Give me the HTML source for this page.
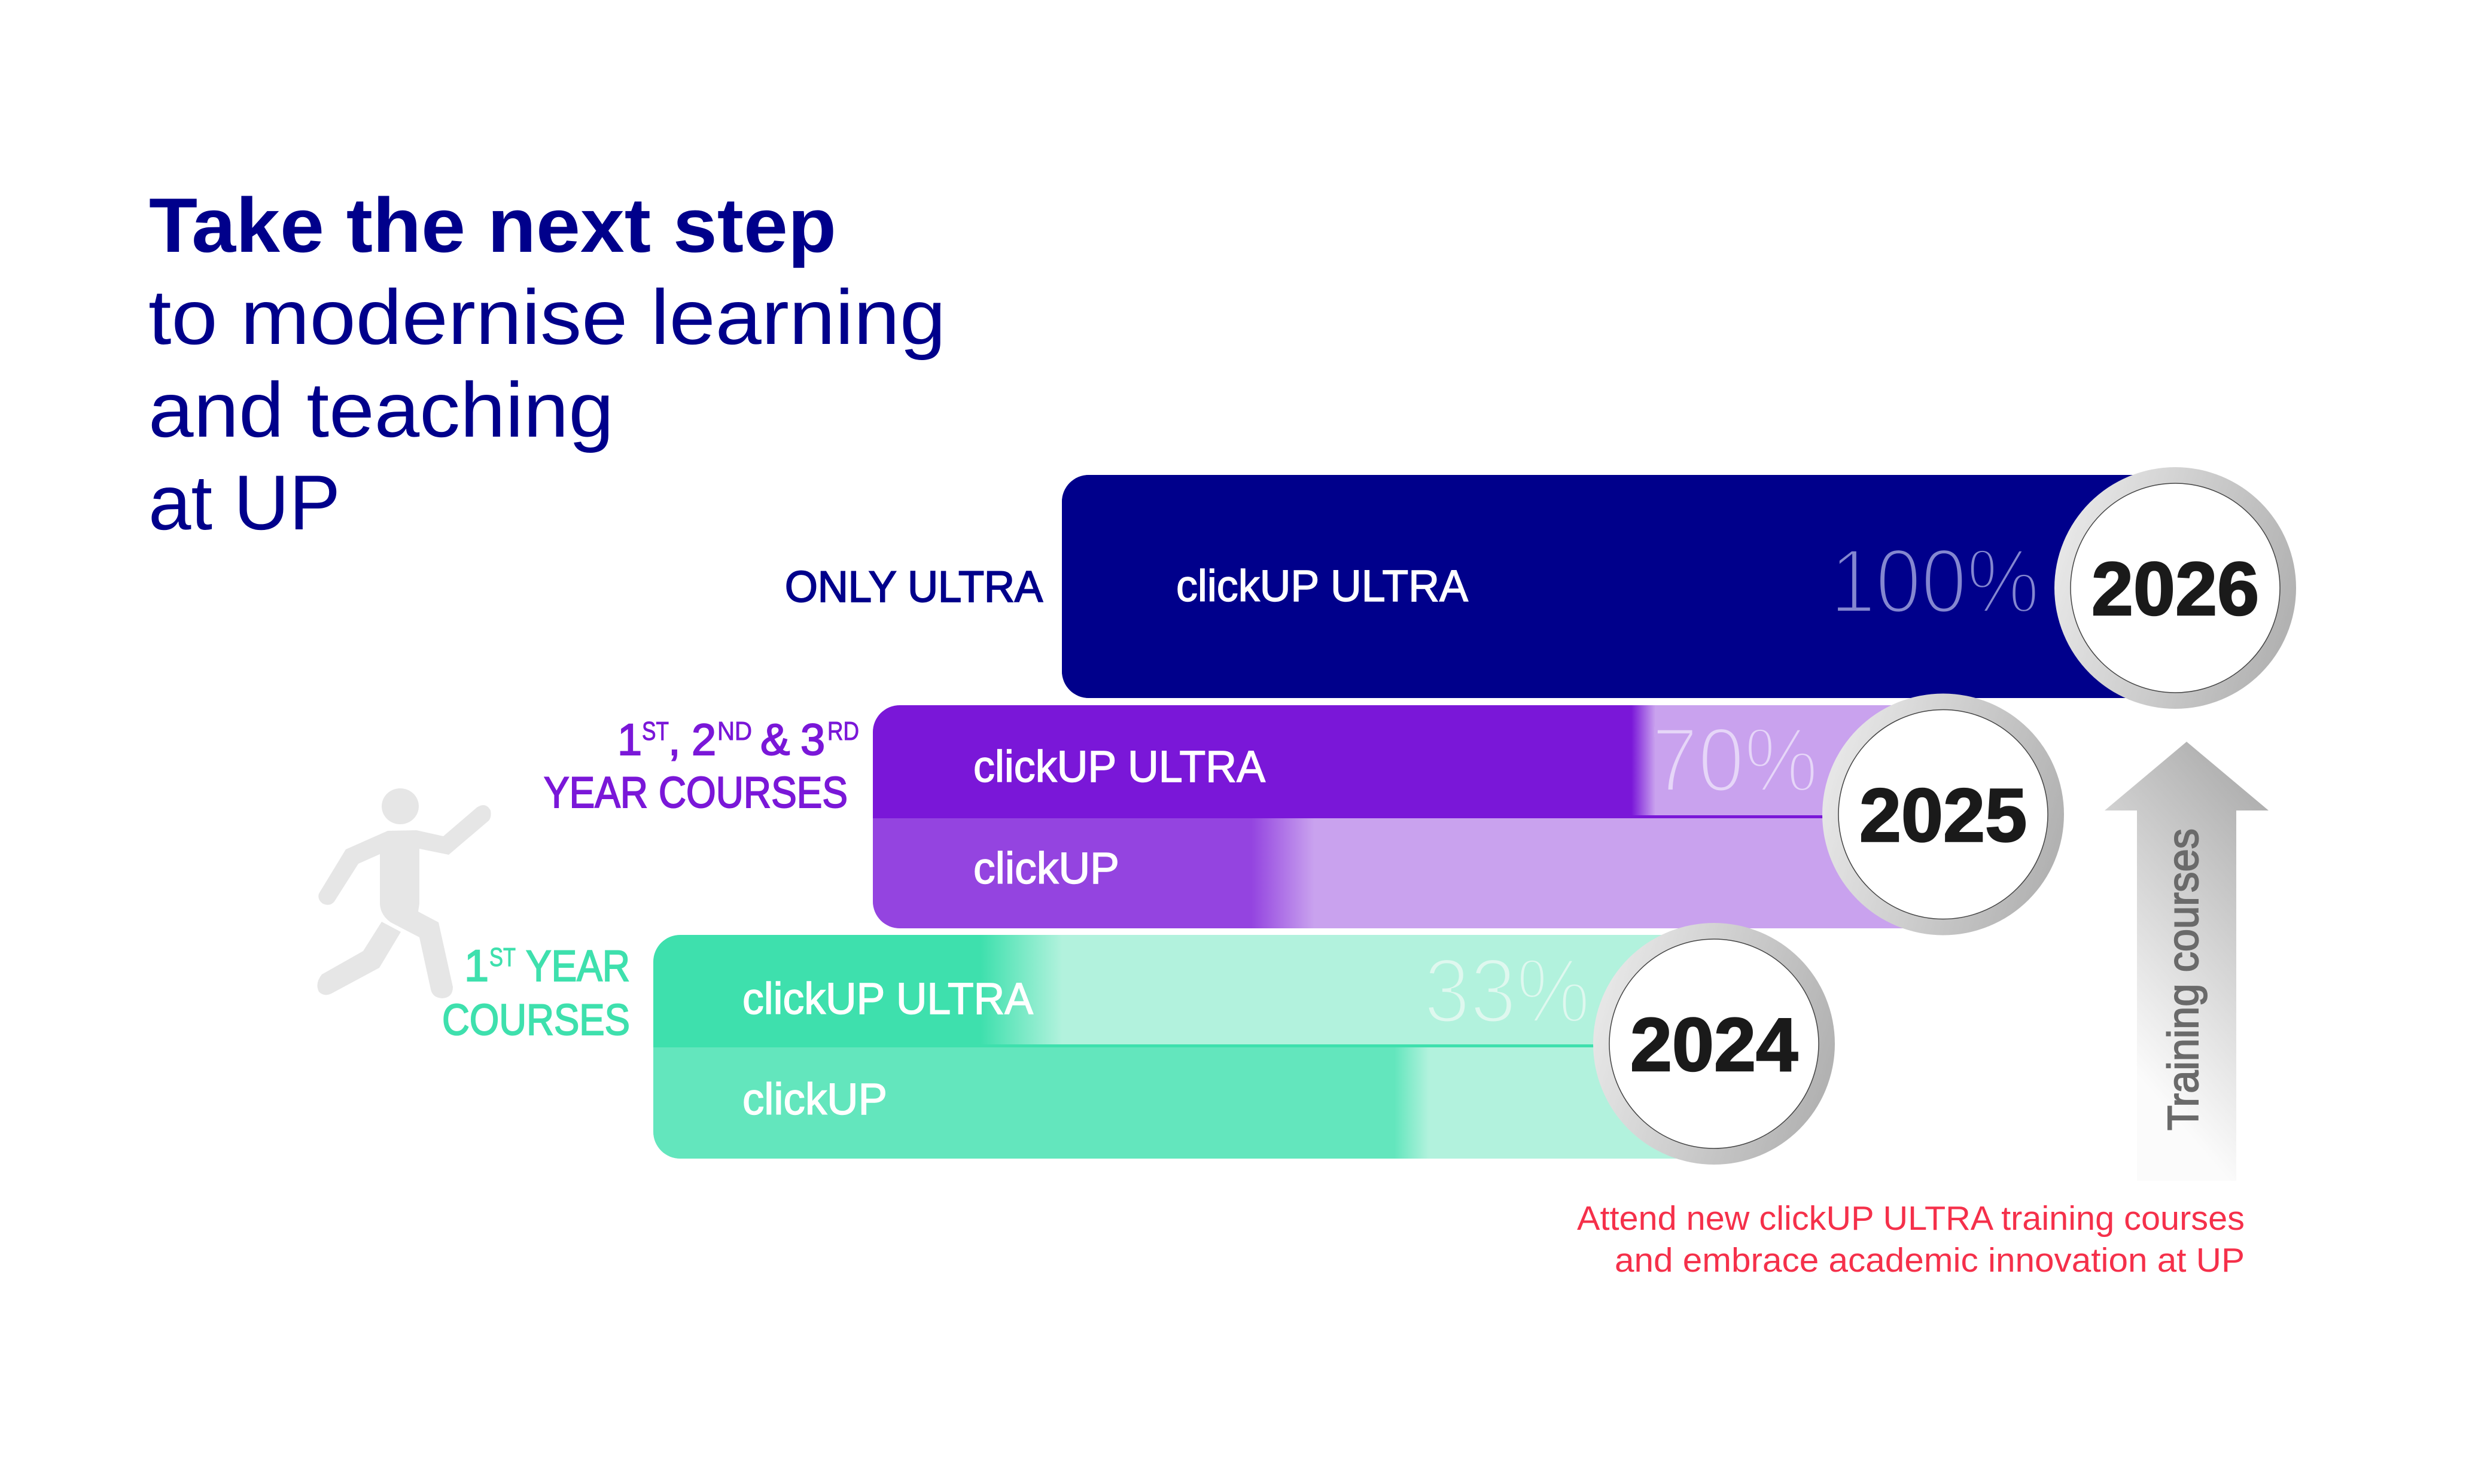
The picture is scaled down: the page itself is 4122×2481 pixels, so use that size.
<!DOCTYPE html>
<html lang="en">
<head>
<meta charset="utf-8">
<title>Take the next step</title>
<style>
html,body{margin:0;padding:0;background:#fff;width:4122px;height:2481px;overflow:hidden}
svg{display:block}
text{font-family:"Liberation Sans",sans-serif}
</style>
</head>
<body>
<svg id="chart" xmlns="http://www.w3.org/2000/svg" width="4122" height="2481" viewBox="0 0 4122 2481">
  <defs>
    <linearGradient id="ring-grad" x1="0" y1="0.35" x2="1" y2="0.65">
      <stop offset="0" stop-color="#e8e8e8"/>
      <stop offset="1" stop-color="#b0b0b0"/>
    </linearGradient>
    <linearGradient id="arrow-grad" gradientUnits="userSpaceOnUse" x1="3792" y1="1355" x2="3448" y2="1655">
      <stop offset="0" stop-color="#b0b0b0"/>
      <stop offset="1" stop-color="#fbfbfb"/>
    </linearGradient>
  </defs>

  <g fill="#00008b">
    <text x="249" y="421" font-size="129" font-weight="700" textLength="1149" lengthAdjust="spacingAndGlyphs">Take the next step</text>
    <text x="248" y="575" font-size="130" textLength="1333" lengthAdjust="spacingAndGlyphs">to modernise learning</text>
    <text x="248" y="730" font-size="130" textLength="778" lengthAdjust="spacingAndGlyphs">and teaching</text>
    <text x="248" y="885" font-size="130" textLength="321" lengthAdjust="spacingAndGlyphs">at UP</text>
  </g>

  <g fill="#e6e6e6">
    <ellipse cx="669" cy="1348" rx="31" ry="30"/>
    <path d="M648 1389 L696 1388 L741 1398 L797 1350 Q812 1340 820 1355 Q822 1366 817 1372 L750 1429 L701 1419 L701 1511 L699 1524 L733 1542 L757 1650 Q757 1668 739 1669 Q723 1668 720 1654 L701 1567 L653 1542 Q636 1530 635 1511 L635 1428 L599 1444 L559 1507 Q552 1516 540 1511 Q530 1504 533 1494 L578 1420 Z"/>
    <path d="M638 1541 L670 1558 L634 1618 L554 1661 Q542 1667 533 1658 Q526 1644 538 1629 L607 1590 Z"/>
  </g>

  <g id="bars"></g>

  <g stroke-width="2">
    <text x="1312" y="1006" font-size="73" fill="#00008b" stroke="#00008b" textLength="431" lengthAdjust="spacingAndGlyphs">ONLY ULTRA</text>
    <g fill="#7a17d8" stroke="#7a17d8">
      <text x="1032" y="1262" font-size="74">1</text>
      <text x="1073" y="1237" font-size="44" stroke-width="1" textLength="45" lengthAdjust="spacingAndGlyphs">ST</text>
      <text x="1117" y="1262" font-size="74">,</text>
      <text x="1156" y="1262" font-size="74">2</text>
      <text x="1199" y="1237" font-size="44" stroke-width="1" textLength="58" lengthAdjust="spacingAndGlyphs">ND</text>
      <text x="1271" y="1262" font-size="74">&amp;</text>
      <text x="1338" y="1262" font-size="74">3</text>
      <text x="1383" y="1237" font-size="44" stroke-width="1" textLength="53" lengthAdjust="spacingAndGlyphs">RD</text>
      <text x="909" y="1350" font-size="73" textLength="508" lengthAdjust="spacingAndGlyphs">YEAR COURSES</text>
    </g>
    <g fill="#3ee0ad" stroke="#3ee0ad">
      <text x="776" y="1640" font-size="74">1</text>
      <text x="818" y="1615" font-size="44" stroke-width="1" textLength="44" lengthAdjust="spacingAndGlyphs">ST</text>
      <text x="879" y="1640" font-size="73" textLength="174" lengthAdjust="spacingAndGlyphs">YEAR</text>
      <text x="739" y="1730" font-size="73" textLength="314" lengthAdjust="spacingAndGlyphs">COURSES</text>
    </g>
  </g>

  <g fill="#ffffff" stroke="#ffffff" stroke-width="1.5" font-size="74">
    <text x="1966" y="1005" textLength="488" lengthAdjust="spacingAndGlyphs">clickUP ULTRA</text>
    <text x="1627" y="1307" textLength="488" lengthAdjust="spacingAndGlyphs">clickUP ULTRA</text>
    <text x="1627" y="1477" textLength="244" lengthAdjust="spacingAndGlyphs">clickUP</text>
    <text x="1241" y="1695" textLength="486" lengthAdjust="spacingAndGlyphs">clickUP ULTRA</text>
    <text x="1241" y="1863" textLength="242" lengthAdjust="spacingAndGlyphs">clickUP</text>
  </g>

  <g>
    <path fill="url(#arrow-grad)" d="M3655 1240 L3792 1355 L3738 1355 L3738 1974 L3572 1974 L3572 1355 L3518 1355 Z"/>
    <text transform="translate(3674 1890) rotate(-90)" font-size="72" fill="#6a6a6a" stroke="#6a6a6a" stroke-width="2" textLength="505" lengthAdjust="spacingAndGlyphs">Training courses</text>
  </g>

  <g fill="#f5304a" font-size="57">
    <text x="2636" y="2056" textLength="1116" lengthAdjust="spacingAndGlyphs">Attend new clickUP ULTRA training courses</text>
    <text x="2699" y="2126" textLength="1053" lengthAdjust="spacingAndGlyphs">and embrace academic innovation at UP</text>
  </g>
</svg>

<script>
// Data (drawn top step first so lower steps overlap upper ones)
const years = [2026, 2025, 2024];
const ultraPrinted = [100, 70, 33];
const ultraFillPct = [100, 72, 34.7];
const clickupFillPct = [0, 38.3, 71.5];

// Layout
const stepCenterX = { 2026: 3636, 2025: 3248, 2024: 2865 };
const stepCenterY = { 2026: 983, 2025: 1361.5, 2024: 1745 };
const barLeft = { 2026: 1775, 2025: 1459, 2024: 1092 };
const barTop = { 2026: 794, 2025: 1179, 2024: 1563 };
const barSplit = { 2026: 1167, 2025: 1368, 2024: 1751 };
const barBottom = { 2026: 1167, 2025: 1552, 2024: 1937 };
const ultraFade = { 2026: 0, 2025: 40, 2024: 137 };
const clickupFade = { 2026: 0, 2025: 105, 2024: 58 };
const pctRightGap = { 2026: 227, 2025: 209, 2024: 207 };
const pctBaselineGap = { 2026: 41, 2025: -38.5, 2024: -36 };
const palette = {
  2026: { ultra: '#00008b', clickup: '#00008b', light: '#00008b', line: '#00008b', pct: '#8487d0' },
  2025: { ultra: '#7a17d8', clickup: '#9444e0', light: '#c9a2ee', line: '#7a17d8', pct: '#e6d6f8' },
  2024: { ultra: '#3ee0ad', clickup: '#63e6bd', light: '#b2f2dd', line: '#3ee0ad', pct: '#dff8ef' }
};
const RING = 202, FACE = 175, CORNER = 45;

// Axis functions
function yearX(year) { return stepCenterX[year]; }
function yearY(year) { return stepCenterY[year]; }
function pctX(year, pct) { return barLeft[year] + (pct / 100) * (yearX(year) - barLeft[year]); }

const NS = 'http://www.w3.org/2000/svg';
const svg = document.getElementById('chart');
const defs = svg.querySelector('defs');
const root = document.getElementById('bars');

function make(tag, attrs, parent) {
  const node = document.createElementNS(NS, tag);
  for (const k in attrs) node.setAttribute(k, attrs[k]);
  parent.appendChild(node);
  return node;
}

function drawRow(year, kind, pct, fade, y0, y1, clipId, group) {
  const c = palette[year];
  const x0 = barLeft[year];
  const x1 = yearX(year);
  const track = make('rect', { x: x0, y: y0, width: x1 - x0, height: y1 - y0, fill: c.light, 'clip-path': 'url(#' + clipId + ')' }, group);
  
  
  const end = pctX(year, pct);
  const fadeStart = end - fade / 2;
  const fadeEnd = end + fade / 2;
  const gid = 'fade-' + kind + '-' + year;
  const grad = make('linearGradient', { id: gid, gradientUnits: 'userSpaceOnUse', x1: fadeStart, y1: 0, x2: Math.max(fadeEnd, fadeStart + 1), y2: 0 }, defs);
  make('stop', { offset: 0, 'stop-color': c[kind] }, grad);
  make('stop', { offset: 1, 'stop-color': c.light }, grad);
  const fill = make('rect', { x: x0, y: y0, width: Math.max(fadeEnd - x0, 0), height: y1 - y0, fill: 'url(#' + gid + ')', 'clip-path': 'url(#' + clipId + ')' }, group);
  
  
  return fadeStart;
}

years.forEach(function (year, i) {
  const c = palette[year];
  const x0 = barLeft[year], x1 = yearX(year), cy = yearY(year);
  const top = barTop[year], split = barSplit[year], bottom = barBottom[year];

  const group = make('g', {}, root);
  
  

  const clipId = 'clip-' + year;
  const clip = make('clipPath', { id: clipId }, defs);
  make('rect', { x: x0, y: top, width: x1 - x0 + CORNER * 2, height: bottom - top, rx: CORNER, ry: CORNER }, clip);

  const fadeStart = drawRow(year, 'ultra', ultraFillPct[i], ultraFade[year], top, split, clipId, group);
  if (bottom > split) {
    drawRow(year, 'clickup', clickupFillPct[i], clickupFade[year], split, bottom, clipId, group);
    const divider = make('rect', { x: fadeStart, y: split - 5, width: Math.max(x1 - fadeStart, 0), height: 5, fill: c.line }, group);
    
    
  }

  const printed = ultraPrinted[i];
  const label = printed + '%';
  const digits = String(printed).length;
  const pctWidth = 72 * digits + 134;
  const pctText = make('text', {
    x: x1 - pctRightGap[year] - pctWidth,
    y: cy + pctBaselineGap[year],
    'font-size': 153,
    fill: c.pct,
    stroke: c.light,
    'stroke-width': 6,
    textLength: pctWidth,
    lengthAdjust: 'spacingAndGlyphs'
  }, group);
  pctText.textContent = label;
  
  

  const ring = make('circle', { cx: x1, cy: cy, r: RING, fill: 'url(#ring-grad)' }, group);
  
  

  const face = make('circle', { cx: x1, cy: cy, r: FACE, fill: '#ffffff', stroke: '#444444', 'stroke-width': 1.5 }, group);
  
  

  const yearText = make('text', {
    x: x1,
    y: cy + 45,
    'text-anchor': 'middle',
    'font-size': 126,
    'font-weight': 700,
    fill: '#1a1a1a',
    stroke: '#1a1a1a',
    'stroke-width': 2.5
  }, group);
  yearText.textContent = String(year);
  
  
});
</script>
</body>
</html>
